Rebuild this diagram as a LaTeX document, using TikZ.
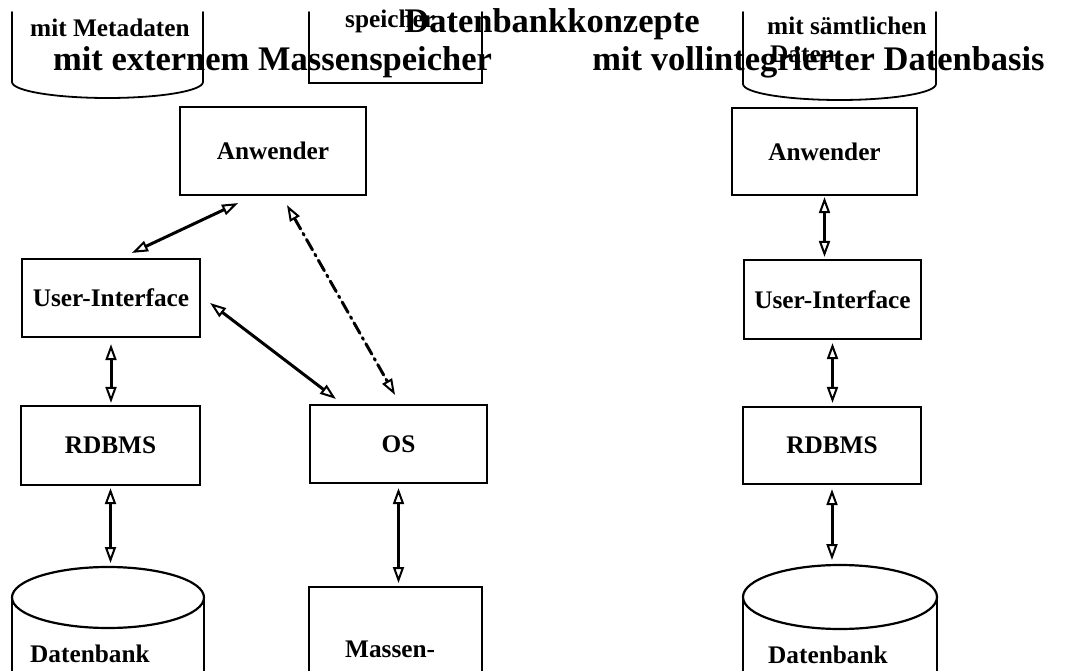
\documentclass[tikz,border=0pt]{standalone}
\usepackage{fontspec}
\setmainfont{Liberation Serif}
\usetikzlibrary{arrows.meta}

\begin{document}
\begin{tikzpicture}[x=1pt,y=-1pt,line cap=round,
  box/.style={draw,line width=2.2pt,inner sep=0pt,font=\bfseries\fontsize{25.3}{30}\selectfont},
  lbl/.style={anchor=base west,inner sep=0pt,font=\bfseries\fontsize{25.3}{30}\selectfont},
  ttl/.style={anchor=base,inner sep=0pt,font=\bfseries\fontsize{34.5}{40}\selectfont},
  dub/.style={{Triangle[open,length=16pt,width=11pt,line width=2pt]}-{Triangle[open,length=16pt,width=11pt,line width=2pt]},line width=3pt},
  dashdot/.style={dub,dash pattern=on 12pt off 5pt on 2pt off 5pt}]
\useasboundingbox (0,0) rectangle (1074,671);
% wrapped lower ends at the top
\draw[line width=1.8pt] (12,12) -- (12,82) arc[start angle=180,end angle=0,x radius=95.5,y radius=16] -- (203,12);
\draw[line width=1.8pt] (309,12) -- (309,83) -- (482,83) -- (482,12);
\draw[line width=1.8pt] (743,12) -- (743,84) arc[start angle=180,end angle=0,x radius=96.5,y radius=16] -- (936,12);
\node[lbl] (metaL) at (30,37) {mit Metadaten};
\node[lbl] (speich) at (345,28) {speicher};
\node[lbl] (saemtl) at (767,35) {mit sämtlichen};
\node[lbl] (datenR) at (770,63) {Daten};
% titles
\node[ttl] (titel) at (552,33) {Datenbankkonzepte};
\node[ttl] (subL) at (272.5,71) {mit externem Massenspeicher};
\node[ttl] (subR) at (818.5,71) {mit vollintegrierter Datenbasis};
% left: external storage
\node[box,minimum width=186pt,minimum height=88pt] (anwL) at (273,151) {Anwender};
\node[box,minimum width=178pt,minimum height=78pt] (uiL) at (111,298) {User-Interface};
\node[box,minimum width=179pt,minimum height=79pt] (rdbL) at (110.5,445.5) {RDBMS};
\node[box,minimum width=177pt,minimum height=78pt] (os) at (398.5,444) {OS};
\draw[line width=2.2pt] (108,597.5) ellipse [x radius=96,y radius=30.5];
\draw[line width=2.2pt] (12,597.5) -- (12,671) (204,597.5) -- (204,671);
\coordinate (dbL) at (108,567);
\node[lbl] (dbLtxt) at (30,662) {Datenbank};
\draw[line width=2.2pt] (309,671) -- (309,587) -- (482,587) -- (482,671);
\coordinate (massTop) at (396,587);
\node[lbl] (massTxt) at (345,657) {Massen-};
\draw[dub] ([xshift=21pt,yshift=5pt]uiL.north) -- ([xshift=-35pt,yshift=-7pt]anwL.south);
\draw[dub] ([xshift=9pt,yshift=-5pt]uiL.east) -- ([xshift=27pt,yshift=5pt]os.north west);
\draw[dashdot] ([xshift=14pt,yshift=-9pt]anwL.south) -- ([xshift=-3.5pt,yshift=9pt]os.north);
\draw[dub] ([yshift=-6pt]uiL.south) -- ([yshift=2pt]uiL.south |- rdbL.north);
\draw[dub] ([yshift=-2pt]rdbL.south) -- ([yshift=4pt]rdbL.south |- dbL);
\draw[dub] ([yshift=-4pt]os.south) -- ([yshift=4pt]os.south |- massTop);
% right: fully integrated
\node[box,minimum width=185pt,minimum height=87pt] (anwR) at (824.5,151.5) {Anwender};
\node[box,minimum width=177pt,minimum height=79pt] (uiR) at (832.5,299.5) {User-Interface};
\node[box,minimum width=178pt,minimum height=77pt] (rdbR) at (832,445.5) {RDBMS};
\draw[line width=2.2pt] (840,597) ellipse [x radius=97,y radius=32];
\draw[line width=2.2pt] (743,597) -- (743,671) (937,597) -- (937,671);
\coordinate (dbR) at (840,565);
\node[lbl] (dbRtxt) at (768,663) {Datenbank};
\draw[dub] ([yshift=-1pt]anwR.south) -- ([yshift=2pt]anwR.south |- uiR.north);
\draw[dub] ([yshift=-3pt]uiR.south) -- ([yshift=3pt]uiR.south |- rdbR.north);
\draw[dub] ([yshift=-4pt]rdbR.south) -- ([yshift=5pt]rdbR.south |- dbR);
\end{tikzpicture}
\end{document}
